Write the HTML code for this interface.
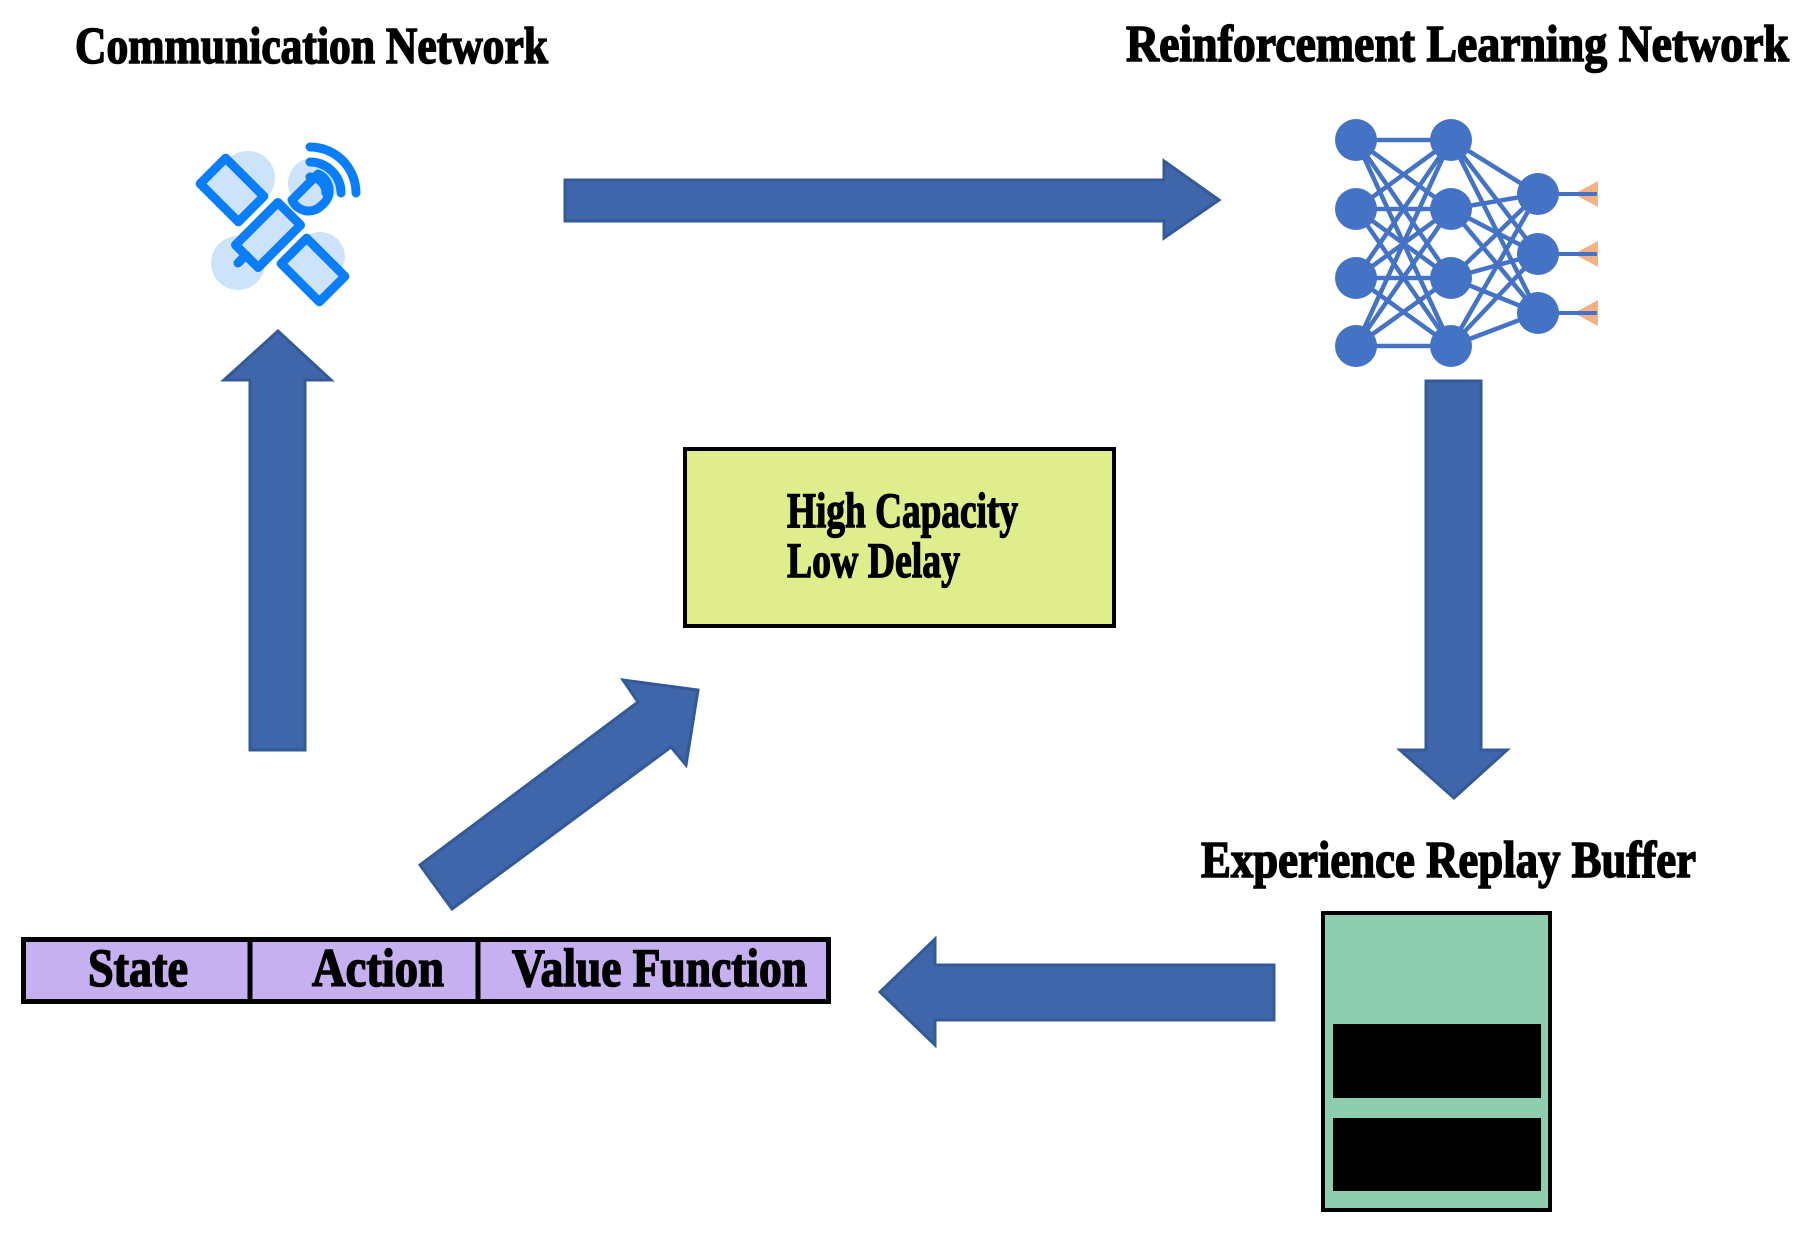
<!DOCTYPE html>
<html><head><meta charset="utf-8"><style>html,body{margin:0;padding:0;background:#fff}svg{display:block}</style></head>
<body>
<svg width="1814" height="1240" viewBox="0 0 1814 1240" xmlns="http://www.w3.org/2000/svg" font-family="'Liberation Serif', serif" font-weight="bold">
<rect width="1814" height="1240" fill="#fff"/>
<g stroke="#000" stroke-width="1.6">
<text x="75" y="63" font-size="52" textLength="473" lengthAdjust="spacingAndGlyphs">Communication Network</text>
<text x="1126" y="61" font-size="52" textLength="663" lengthAdjust="spacingAndGlyphs">Reinforcement Learning Network</text>
<text x="1201" y="877" font-size="52" textLength="495" lengthAdjust="spacingAndGlyphs">Experience Replay Buffer</text>
</g>

<!-- satellite -->
<g>
<circle cx="238" cy="263" r="27" fill="#cde3fa"/>
<circle cx="248" cy="178" r="27" fill="#cde3fa"/>
<circle cx="313" cy="183" r="25" fill="#cde3fa"/>
<circle cx="320" cy="257" r="25" fill="#cde3fa"/>
<g fill="#cde3fa" stroke="#0a7df8" stroke-width="9" stroke-linejoin="round" stroke-linecap="round">
<rect x="-27" y="-18" width="54" height="36" transform="translate(232,190) rotate(45)"/>
<rect x="-27" y="-18" width="54" height="36" transform="translate(313,270) rotate(45)"/>
<rect x="-30" y="-16" width="60" height="32" transform="translate(268,235) rotate(-45)"/>
<line x1="246" y1="255" x2="238" y2="263" fill="none"/>
<path d="M292,200 L318,174 A18,18 0 0 1 322,205 A18,18 0 0 1 292,200 Z"/>
</g>
<g fill="none" stroke="#0a7df8" stroke-width="9" stroke-linecap="round">
<path d="M310,177 A16,16 0 0 1 326,193"/>
<path d="M310,162 A31,31 0 0 1 341,193"/>
<path d="M310,147 A46,46 0 0 1 356,193"/>
</g>
</g>

<!-- arrows -->
<g fill="#3f65aa" stroke="#335a96" stroke-width="3" stroke-linejoin="miter">
<polygon points="250,750 250,380 224,380 278,331 331,380 305,380 305,750"/>
<polygon points="565,180 1164,180 1164,161 1219,200 1164,238 1164,221 565,221"/>
<polygon points="1426,381 1481,381 1481,750 1507,750 1454,798 1400,750 1426,750"/>
<polygon points="1274,965 935,965 935,939 880,992 935,1045 935,1020 1274,1020"/>
<polygon points="420,865 638,702 623,680 698,690 686,765 671,747 452,909"/>
</g>

<!-- neural network -->
<g stroke="#4472c4" stroke-width="4.5">
<line x1="1356" y1="140" x2="1451" y2="140"/><line x1="1356" y1="140" x2="1451" y2="209"/><line x1="1356" y1="140" x2="1451" y2="278"/><line x1="1356" y1="140" x2="1451" y2="346"/>
<line x1="1356" y1="209" x2="1451" y2="140"/><line x1="1356" y1="209" x2="1451" y2="209"/><line x1="1356" y1="209" x2="1451" y2="278"/><line x1="1356" y1="209" x2="1451" y2="346"/>
<line x1="1356" y1="278" x2="1451" y2="140"/><line x1="1356" y1="278" x2="1451" y2="209"/><line x1="1356" y1="278" x2="1451" y2="278"/><line x1="1356" y1="278" x2="1451" y2="346"/>
<line x1="1356" y1="346" x2="1451" y2="140"/><line x1="1356" y1="346" x2="1451" y2="209"/><line x1="1356" y1="346" x2="1451" y2="278"/><line x1="1356" y1="346" x2="1451" y2="346"/>
<line x1="1451" y1="140" x2="1538" y2="194"/><line x1="1451" y1="140" x2="1538" y2="254"/><line x1="1451" y1="140" x2="1538" y2="313"/>
<line x1="1451" y1="209" x2="1538" y2="194"/><line x1="1451" y1="209" x2="1538" y2="254"/><line x1="1451" y1="209" x2="1538" y2="313"/>
<line x1="1451" y1="278" x2="1538" y2="194"/><line x1="1451" y1="278" x2="1538" y2="254"/><line x1="1451" y1="278" x2="1538" y2="313"/>
<line x1="1451" y1="346" x2="1538" y2="194"/><line x1="1451" y1="346" x2="1538" y2="254"/><line x1="1451" y1="346" x2="1538" y2="313"/>
</g>
<g fill="#f4b183">
<polygon points="1574,194 1598,181 1598,207"/>
<polygon points="1574,254 1598,241 1598,267"/>
<polygon points="1574,313 1598,300 1598,326"/>
</g>
<g stroke="#4472c4" stroke-width="4">
<line x1="1538" y1="194" x2="1597" y2="194"/><line x1="1538" y1="254" x2="1597" y2="254"/><line x1="1538" y1="313" x2="1597" y2="313"/>
</g>
<g fill="#4472c4">
<circle cx="1356" cy="140" r="21"/><circle cx="1356" cy="209" r="21"/><circle cx="1356" cy="278" r="21"/><circle cx="1356" cy="346" r="21"/>
<circle cx="1451" cy="140" r="21"/><circle cx="1451" cy="209" r="21"/><circle cx="1451" cy="278" r="21"/><circle cx="1451" cy="346" r="21"/>
<circle cx="1538" cy="194" r="21"/><circle cx="1538" cy="254" r="21"/><circle cx="1538" cy="313" r="21"/>
</g>

<!-- yellow box -->
<rect x="685" y="449" width="429" height="177" fill="#e0ed8c" stroke="#000" stroke-width="4"/>
<g stroke="#000" stroke-width="1.4">
<text x="787" y="527" font-size="50" textLength="231" lengthAdjust="spacingAndGlyphs">High Capacity</text>
<text x="787" y="577" font-size="50" textLength="173" lengthAdjust="spacingAndGlyphs">Low Delay</text>
</g>

<!-- table -->
<rect x="23.5" y="939.5" width="805" height="62" fill="#c7b0f0" stroke="#000" stroke-width="5"/>
<line x1="250" y1="939" x2="250" y2="1002" stroke="#000" stroke-width="5"/>
<line x1="478" y1="939" x2="478" y2="1002" stroke="#000" stroke-width="5"/>
<g stroke="#000" stroke-width="1.6">
<text x="88" y="986" font-size="54" textLength="100" lengthAdjust="spacingAndGlyphs">State</text>
<text x="312" y="986" font-size="54" textLength="132" lengthAdjust="spacingAndGlyphs">Action</text>
<text x="512" y="986" font-size="54" textLength="295" lengthAdjust="spacingAndGlyphs">Value Function</text>
</g>

<!-- buffer -->
<rect x="1323" y="913" width="227" height="297" fill="#8ecdb0" stroke="#000" stroke-width="4"/>
<rect x="1333" y="1024" width="208" height="74" fill="#000"/>
<rect x="1333" y="1118" width="208" height="73" fill="#000"/>
</svg>
</body></html>
